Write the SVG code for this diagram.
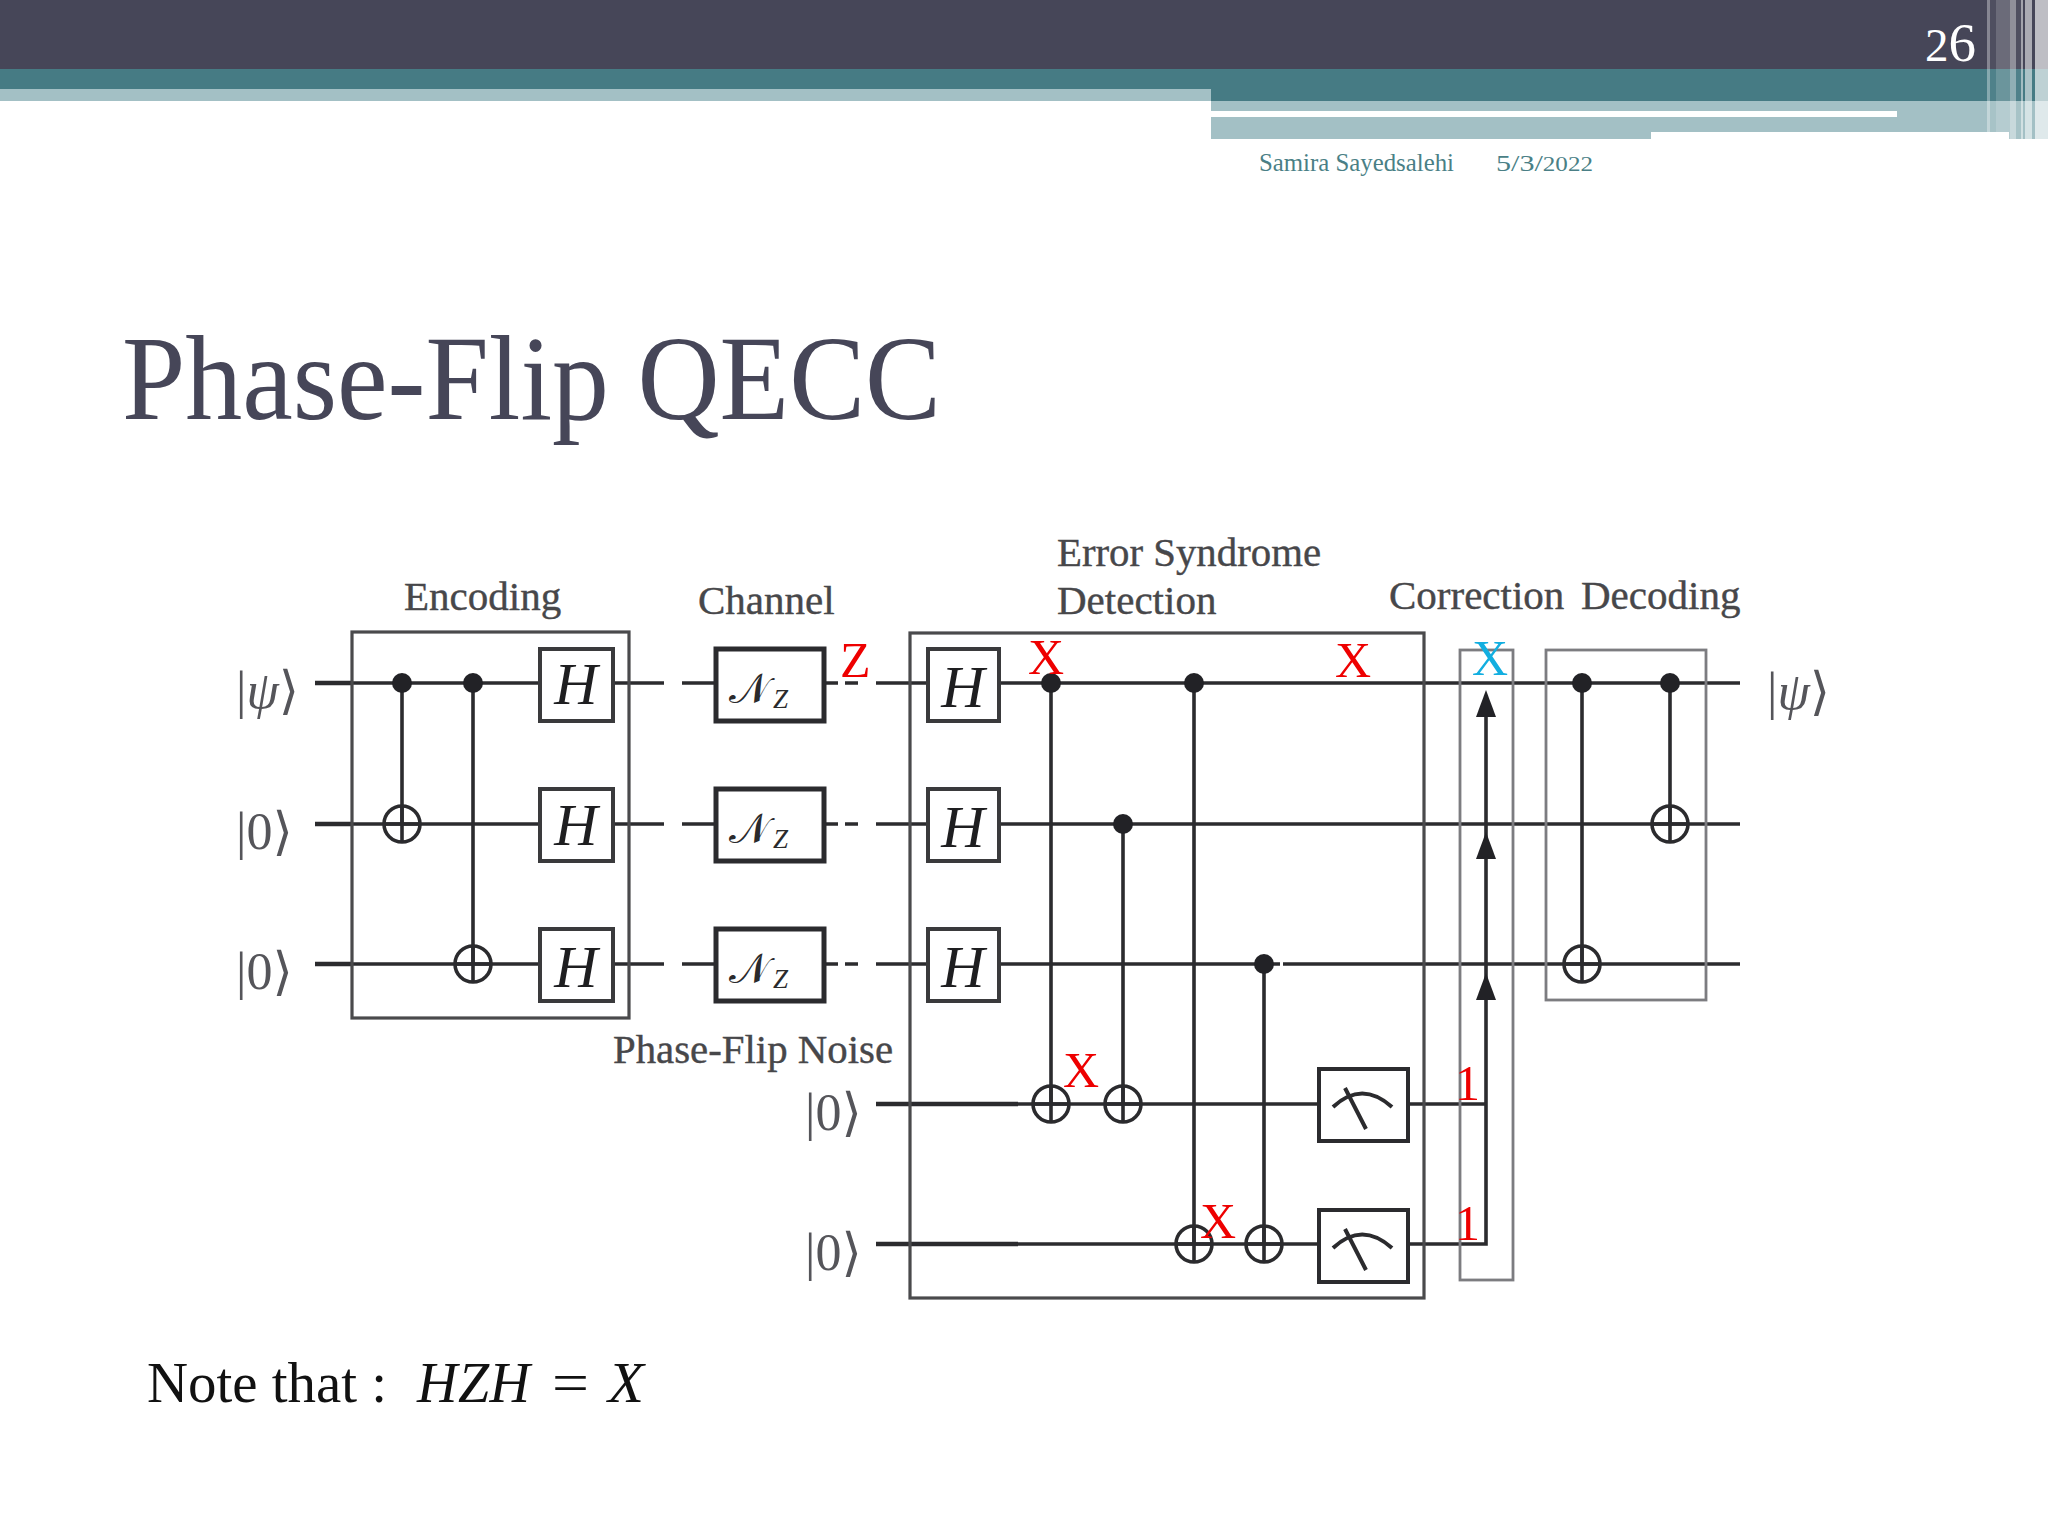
<svg xmlns="http://www.w3.org/2000/svg" width="2048" height="1536" viewBox="0 0 2048 1536">
<style>
text{font-family:"Liberation Serif","DejaVu Serif",serif}
.w{stroke:#2b2b2e;stroke-width:3.6;fill:none}
.wt{stroke:#2b2b2e;stroke-width:4.4;fill:none}
.v{stroke:#2b2b2e;stroke-width:3.6;fill:none}
.enc{fill:none;stroke:#4a4a4c;stroke-width:3.2}
.gray{fill:none;stroke:#7c7c80;stroke-width:2.8}
.hb{fill:#fff;stroke:#3a3a3c;stroke-width:4}
.nb{fill:#fff;stroke:#2b2b2e;stroke-width:5}
.m{fill:none;stroke:#2b2b2e;stroke-width:4}
.dot{fill:#222226}
.t{fill:none;stroke:#2b2b2e;stroke-width:3.6}
.lb{font-size:41px;fill:#47474a;stroke:#47474a;stroke-width:.4}
.h{font-size:60px;font-style:italic;fill:#1e1e20;text-anchor:middle}
.n{font-size:42px;fill:#2a2a2c}
.z{font-size:27px;font-style:italic;fill:#2a2a2c}
.r{font-size:50px;fill:#ee0000}
.k{font-size:52px;fill:#55555a}
</style>
<defs>
<g id="tgt"><circle r="18" class="t"/><path d="M0-18V18M-18 0H18" class="t"/></g>
<g id="meter"><rect x="1319" y="1069" width="89" height="72" class="m"/><path d="M1333 1107Q1362 1080 1392 1107M1345 1088L1366 1129" class="m"/></g>
<path id="arr" d="M0 0L10 27H-10Z" fill="#222226"/>
</defs>
<rect width="2048" height="1536" fill="#fff"/>
<g id="header">
<rect width="2048" height="69" fill="#464658"/>
<rect y="69" width="2048" height="32" fill="#467b84"/>
<rect y="89" width="1211" height="12" fill="#a3c0c5"/>
<rect x="1211" y="101" width="798" height="38" fill="#a3c0c5"/>
<rect x="1211" y="111" width="686" height="6" fill="#fff"/>
<rect x="1651" y="132" width="358" height="7" fill="#fff"/>
<rect x="2009" y="101" width="39" height="38" fill="#a3c0c5"/>
<g fill="#fff">
<rect x="1987" y="0" width="3" height="139" opacity=".35"/>
<rect x="1990" y="0" width="6" height="139" opacity=".05"/>
<rect x="1996" y="0" width="14" height="139" opacity=".2"/>
<rect x="2010" y="0" width="6" height="139" opacity=".4"/>
<rect x="2016" y="0" width="5" height="139" opacity=".05"/>
<rect x="2021" y="0" width="2" height="139" opacity=".5"/>
<rect x="2025" y="0" width="7" height="139" opacity=".55"/>
<rect x="2035" y="0" width="13" height="139" opacity=".65"/>
</g>
<text x="1925" y="61" fill="#fff"><tspan font-size="47">2</tspan><tspan font-size="55">6</tspan></text>
<text x="1259" y="171" font-size="25" fill="#4a7f86" textLength="195" lengthAdjust="spacingAndGlyphs">Samira Sayedsalehi</text>
<text x="1496" y="171" font-size="24" fill="#4a7f86" textLength="97" lengthAdjust="spacingAndGlyphs">5/3/<tspan font-size="20">2022</tspan></text>
</g>
<text id="title" x="122" y="419" font-size="120" fill="#464658" textLength="819" lengthAdjust="spacingAndGlyphs">Phase-Flip QECC</text>
<g id="note">
<text x="147" y="1402" font-size="56" fill="#111" textLength="240" lengthAdjust="spacingAndGlyphs">Note that :</text>
<text x="417" y="1402" font-size="56" font-style="italic" fill="#111" textLength="113">HZH</text>
<text x="552" y="1402" font-size="56" fill="#111" textLength="37" lengthAdjust="spacingAndGlyphs">=</text>
<text x="608" y="1402" font-size="56" font-style="italic" fill="#111" textLength="36" lengthAdjust="spacingAndGlyphs">X</text>
</g>
<g id="connectors">
<path class="w" d="M315 683H664M682 683H716M824 683H838M845 683H858M876 683H1740"/>
<path class="w" d="M315 824H664M682 824H716M824 824H838M845 824H858M876 824H1740"/>
<path class="w" d="M315 964H664M682 964H716M824 964H838M845 964H858M876 964H1280M1283 964H1740"/>
<path class="w" d="M876 1104H1319M876 1244H1319M1408 1104H1486M1408 1244H1486V710"/>
<path class="wt" d="M876 1104H1018M876 1244H1018M315 683H352M315 824H352M315 964H352"/>
<path class="v" d="M402 683V824M473 683V964M1051 683V1104M1123 824V1104M1194 683V1244M1264 964V1244M1582 683V964M1670 683V824"/>
<use href="#arr" x="1486" y="690"/><use href="#arr" x="1486" y="832"/><use href="#arr" x="1486" y="973"/>
</g>
<g id="encoding"><rect x="352" y="632" width="277" height="386" class="enc"/><text x="404" y="610" class="lb">Encoding</text></g>
<g id="detection"><rect x="910" y="633" width="514" height="665" class="enc"/><text x="1057" y="566" class="lb" textLength="264" lengthAdjust="spacingAndGlyphs">Error Syndrome</text><text x="1057" y="614" class="lb">Detection</text></g>
<g id="correction"><rect x="1460" y="650" width="53" height="630" class="gray"/><text x="1389" y="609" class="lb">Correction</text></g>
<g id="decoding"><rect x="1546" y="650" width="160" height="350" class="gray"/><text x="1581" y="609" class="lb">Decoding</text></g>
<g id="enc-gates">
<circle class="dot" cx="402" cy="683" r="10"/><circle class="dot" cx="473" cy="683" r="10"/>
<use href="#tgt" x="402" y="824"/><use href="#tgt" x="473" y="964"/>
<rect x="540" y="649" width="73" height="72" class="hb"/><text x="576" y="704" class="h">H</text>
<rect x="540" y="789" width="73" height="72" class="hb"/><text x="576" y="845" class="h">H</text>
<rect x="540" y="929" width="73" height="72" class="hb"/><text x="576" y="987" class="h">H</text>
</g>
<g id="channel">
<rect x="716" y="649" width="108" height="72" class="nb"/><text x="729" y="703" class="n">𝒩</text><text x="773" y="708" class="z">Z</text>
<rect x="716" y="789" width="108" height="72" class="nb"/><text x="729" y="843" class="n">𝒩</text><text x="773" y="848" class="z">Z</text>
<rect x="716" y="929" width="108" height="72" class="nb"/><text x="729" y="983" class="n">𝒩</text><text x="773" y="988" class="z">Z</text>
<text x="613" y="1063" class="lb" textLength="280" lengthAdjust="spacingAndGlyphs">Phase-Flip Noise</text>
<text x="698" y="614" class="lb">Channel</text>
</g>
<g id="det-gates">
<rect x="928" y="649" width="71" height="72" class="hb"/><text x="963" y="707" class="h">H</text>
<rect x="928" y="789" width="71" height="72" class="hb"/><text x="963" y="847" class="h">H</text>
<rect x="928" y="929" width="71" height="72" class="hb"/><text x="963" y="987" class="h">H</text>
<circle class="dot" cx="1051" cy="683" r="10"/><circle class="dot" cx="1194" cy="683" r="10"/><circle class="dot" cx="1123" cy="824" r="10"/><circle class="dot" cx="1264" cy="964" r="10"/>
<use href="#tgt" x="1051" y="1104"/><use href="#tgt" x="1123" y="1104"/><use href="#tgt" x="1194" y="1244"/><use href="#tgt" x="1264" y="1244"/>
<use href="#meter"/><use href="#meter" y="141"/>
</g>
<g id="dec-gates">
<circle class="dot" cx="1582" cy="683" r="10"/><circle class="dot" cx="1670" cy="683" r="10"/>
<use href="#tgt" x="1582" y="964"/><use href="#tgt" x="1670" y="824"/>
</g>
<g id="kets">
<text x="236" y="708" class="k">|<tspan font-style="italic">ψ</tspan>⟩</text>
<text x="236" y="849" class="k">|0⟩</text>
<text x="236" y="989" class="k">|0⟩</text>
<text x="805" y="1130" class="k">|0⟩</text>
<text x="805" y="1270" class="k">|0⟩</text>
<text x="1767" y="709" class="k">|<tspan font-style="italic">ψ</tspan>⟩</text>
</g>
<g id="annotations">
<text x="840" y="677" class="r">Z</text>
<text x="1028" y="674" class="r">X</text>
<text x="1335" y="677" class="r">X</text>
<text x="1063" y="1087" class="r">X</text>
<text x="1200" y="1238" class="r">X</text>
<text x="1455" y="1100" class="r">1</text>
<text x="1455" y="1240" class="r">1</text>
<text x="1472" y="675" class="r" style="fill:#12aee0">X</text>
</g>
</svg>
